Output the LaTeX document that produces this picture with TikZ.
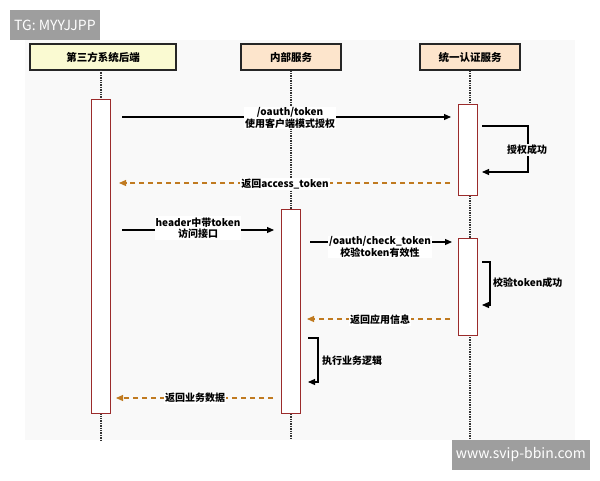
\documentclass[tikz,border=0pt]{standalone}
\usepackage{fontspec}
\setmainfont{Noto Sans CJK SC}
\usetikzlibrary{arrows.meta}
\definecolor{hdrY}{HTML}{FAFAD2}
\definecolor{hdrP}{HTML}{FDE5CC}
\definecolor{act}{HTML}{9B2B2B}
\definecolor{ret}{HTML}{C07A20}
\begin{document}
\begin{tikzpicture}[x=1pt,y=-1pt,
  hdr/.style={draw=black!85,line width=1.2pt,minimum height=26pt,font=\bfseries\fontsize{10.5}{12}\selectfont,inner sep=2pt},
  life/.style={densely dotted,line width=1.4pt,black!80},
  actv/.style={draw=act,fill=white,line width=1pt},
  msg/.style={-{Triangle[length=7pt,width=6pt]},line width=1.1pt},
  rmsg/.style={-{Triangle[length=7pt,width=6pt]},line width=1.1pt,ret,dash pattern=on 5pt off 4pt},
  lbl/.style={fill=white,font=\bfseries\fontsize{10}{11.5}\selectfont,align=center,inner sep=1pt},
  slbl/.style={font=\bfseries\fontsize{10}{11.5}\selectfont,anchor=west,inner sep=1pt},
  wm/.style={fill=black!38,text=white,font=\fontsize{14}{16}\selectfont,inner sep=4pt}]
\useasboundingbox (0,0) rectangle (600,480);
\fill[black!2.5] (25,40) rectangle (575,440);
\node[wm,anchor=north west,minimum height=30pt] (wm1) at (10,10) {TG: MYYJJPP};
% headers
\node[hdr,fill=hdrY,minimum width=146pt] (A) at (103,57) {第三方系统后端};
\node[hdr,fill=hdrP,minimum width=100pt] (B) at (291,57) {内部服务};
\node[hdr,fill=hdrP,minimum width=100pt] (C) at (470,57) {统一认证服务};
\coordinate (Ae) at (101,440); \coordinate (Be) at (291,440); \coordinate (Ce) at (470,440);
\draw[life] (101,70) -- (Ae);
\draw[life] (B.south) -- (Be);
\draw[life] (C.south) -- (Ce);
% activations
\draw[actv] (91,99) rectangle (110,413);
\draw[actv] (281,209) rectangle (300,413);
\draw[actv] (458,104) rectangle (477,195);
\draw[actv] (458,238) rectangle (477,335);
% messages
\coordinate (m1s) at (122,117); \coordinate (m1e) at (451,117);
\draw[msg] (m1s) -- (m1e);
\node[lbl] (l1) at (290,118) {/oauth/token\\使用客户端模式授权};
\coordinate (s1a) at (482,126); \coordinate (s1b) at (482,172);
\draw[msg] (s1a) -- (528,126) -- (528,172) -- (s1b);
\node[slbl] (l2) at (506,150) [fill=black!2.5] {授权成功};
\coordinate (m3s) at (450,183); \coordinate (m3e) at (119,183);
\draw[rmsg] (m3s) -- (m3e);
\node[lbl] (l3) at (285,184) {返回access\_token};
\coordinate (m4s) at (122,230); \coordinate (m4e) at (274,230);
\draw[msg] (m4s) -- (m4e);
\node[lbl] (l4) at (198,228) {header中带token\\访问接口};
\coordinate (m5s) at (310,242); \coordinate (m5e) at (452,242);
\draw[msg] (m5s) -- (m5e);
\node[lbl] (l5) at (380,247) {/oauth/check\_token\\校验token有效性};
\coordinate (s2a) at (482,262); \coordinate (s2b) at (482,305);
\draw[msg] (s2a) -- (490,262) -- (490,305) -- (s2b);
\node[slbl] (l6) at (492,283) {校验token成功};
\coordinate (m7s) at (450,319); \coordinate (m7e) at (307,319);
\draw[rmsg] (m7s) -- (m7e);
\node[lbl] (l7) at (380,320) {返回应用信息};
\coordinate (s3a) at (308,338); \coordinate (s3b) at (308,382);
\draw[msg] (s3a) -- (318,338) -- (318,382) -- (s3b);
\node[slbl] (l8) at (321,361) {执行业务逻辑};
\coordinate (m9s) at (273,398); \coordinate (m9e) at (116,398);
\draw[rmsg] (m9s) -- (m9e);
\node[lbl] (l9) at (195,398) {返回业务数据};
\node[wm,anchor=south east,minimum height=30pt] (wm2) at (590,470) {www.svip-bbin.com};
\end{tikzpicture}
\end{document}
